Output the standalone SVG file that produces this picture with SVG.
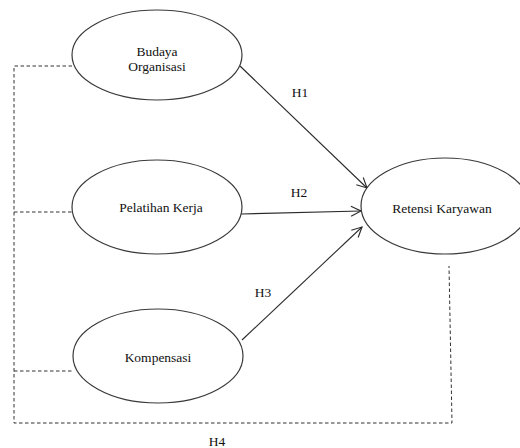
<svg xmlns="http://www.w3.org/2000/svg" width="520" height="448" viewBox="0 0 520 448">
<defs>
<style>
.n{fill:#fff;stroke:#3a3a3a;stroke-width:1.2}
.t{font-family:"Liberation Serif","Times New Roman",serif;font-size:13.5px;fill:#111;text-anchor:middle}
.a{stroke:#2a2a2a;stroke-width:1.1;fill:none}
.d{stroke:#333;stroke-width:1;fill:none;stroke-dasharray:3.5,2.5}
</style>
<marker id="arr" viewBox="0 0 12 12" refX="11" refY="6" markerWidth="12" markerHeight="12" markerUnits="userSpaceOnUse" orient="auto">
<path d="M1,1 L11,6 L1,11" fill="none" stroke="#2a2a2a" stroke-width="1.1"/>
</marker>
</defs>
<rect width="520" height="448" fill="#fff"/>
<g id="connectors">
<line class="a" x1="240" y1="66" x2="367" y2="188" marker-end="url(#arr)"/>
<line class="a" x1="241" y1="214" x2="361" y2="211" marker-end="url(#arr)"/>
<line class="a" x1="242" y1="340" x2="362" y2="227" marker-end="url(#arr)"/>
<polyline class="d" points="72,66 14,66 14,423 452,423 449,266"/>
<line class="d" x1="14" y1="212" x2="72" y2="212"/>
<line class="d" x1="14" y1="371" x2="73" y2="371"/>
<text class="t" x="300" y="97">H1</text>
<text class="t" x="299" y="197">H2</text>
<text class="t" x="263" y="297">H3</text>
<text class="t" x="217" y="446">H4</text>
</g>
<g id="budaya">
<ellipse class="n" cx="157" cy="55" rx="85" ry="45"/>
<text class="t" x="157" y="56">Budaya</text>
<text class="t" x="157" y="71">Organisasi</text>
</g>
<g id="pelatihan">
<ellipse class="n" cx="157" cy="207" rx="85" ry="47"/>
<text class="t" x="161" y="212">Pelatihan Kerja</text>
</g>
<g id="kompensasi">
<ellipse class="n" cx="158" cy="356" rx="85" ry="47"/>
<text class="t" x="158" y="362">Kompensasi</text>
</g>
<g id="retensi">
<ellipse class="n" cx="445" cy="206" rx="84" ry="48"/>
<text class="t" x="442" y="213">Retensi Karyawan</text>
</g>
</svg>
